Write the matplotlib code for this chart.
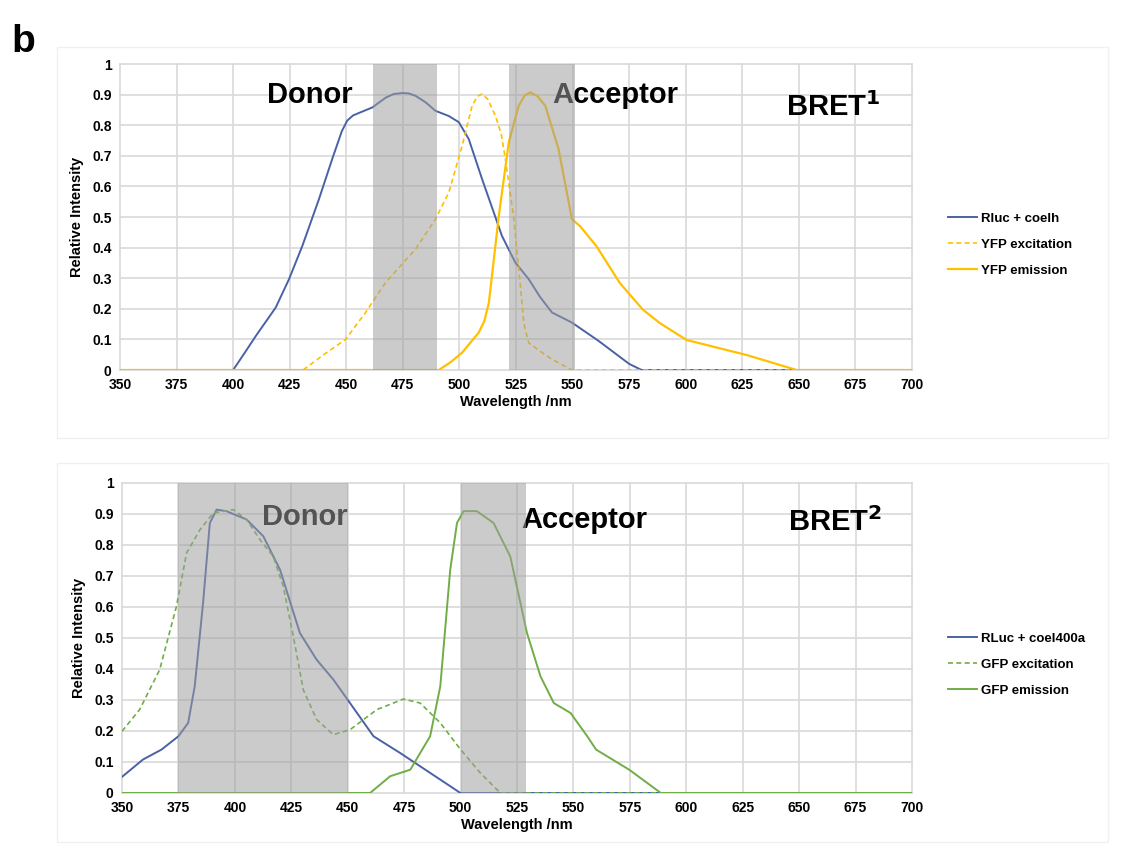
import numpy as np
import matplotlib.pyplot as plt
from matplotlib.patches import Rectangle

plt.rcParams['font.family'] = ['Liberation Sans', 'DejaVu Sans']
plt.rcParams['font.weight'] = 'bold'

# BRET1 spectra
rluc_x = [350, 400, 405, 410, 418.8, 424.7, 430.6, 437.9, 443.8, 448, 450.4, 453, 455.6,
          461.5, 467.4, 471, 474.7, 477.5, 480.6, 485, 489.4, 495.3, 499.7, 504.1, 510,
          518.8, 524.7, 530.6, 535.5, 540.9, 549.7, 561.5, 575, 580.5, 700]
rluc_y = [0, 0, 0.055, 0.111, 0.204, 0.297, 0.406, 0.558, 0.69, 0.78, 0.815, 0.832, 0.84,
          0.858, 0.89, 0.902, 0.905, 0.904, 0.896, 0.875, 0.847, 0.83, 0.81, 0.755, 0.624,
          0.438, 0.351, 0.297, 0.24, 0.188, 0.155, 0.095, 0.02, 0, 0]

yfp_ex_x = [350, 430.9, 440, 449.7, 458.5, 467.4, 480.6, 489.4, 495.3, 501.2, 505.6, 508,
            510, 512.5, 515.9, 518.5, 520.3, 523.9, 526.8, 528.5, 530.6, 536.5, 540.9,
            549.7, 700]
yfp_ex_y = [0, 0, 0.05, 0.1, 0.188, 0.286, 0.395, 0.493, 0.58, 0.733, 0.864, 0.895,
            0.902, 0.885, 0.831, 0.77, 0.689, 0.503, 0.286, 0.15, 0.089, 0.057, 0.035,
            0, 0]

yfp_em_x = [350, 490.9, 496, 501.2, 508.5, 511, 513, 517.4, 521.8, 526.2, 528.8, 531.3,
            534.5, 537.9, 543.8, 549.7, 553.3, 560.6, 570.9, 581.1, 588.6, 600.4, 626.9,
            649, 700]
yfp_em_y = [0, 0, 0.025, 0.057, 0.122, 0.16, 0.22, 0.504, 0.744, 0.864, 0.897, 0.907,
            0.895, 0.864, 0.722, 0.493, 0.47, 0.404, 0.284, 0.197, 0.153, 0.098, 0.049,
            0, 0]

# BRET2 spectra
rluc2_x = [350, 359.3, 367.5, 375, 379.3, 382.2, 385.9, 388.9, 391.9, 396.3, 405.2,
           412.6, 420, 428.8, 436.2, 443.6, 451, 461.4, 473.2, 482.1, 499.9, 700]
rluc2_y = [0.052, 0.108, 0.14, 0.183, 0.226, 0.344, 0.613, 0.871, 0.914, 0.909, 0.882,
           0.828, 0.72, 0.516, 0.43, 0.366, 0.29, 0.183, 0.129, 0.086, 0, 0]

gfp_ex_x = [350, 357.8, 366.7, 374.1, 378.6, 384.5, 390.4, 399.3, 405.2, 411.1, 417,
            421.4, 425.9, 430.3, 436.2, 443.6, 451, 462.9, 474.7, 482.1, 491, 500,
            508.7, 517.6, 700]
gfp_ex_y = [0.199, 0.269, 0.398, 0.602, 0.774, 0.849, 0.903, 0.914, 0.882, 0.817, 0.763,
            0.667, 0.505, 0.333, 0.237, 0.188, 0.204, 0.269, 0.303, 0.29, 0.226, 0.14,
            0.065, 0, 0]

gfp_em_x = [350, 459.9, 468.8, 477.7, 486.5, 491, 495.4, 498.4, 501.3, 507.2, 514.6,
            522, 529.4, 535.4, 541.3, 548.7, 556.1, 560, 574.7, 588.7, 700]
gfp_em_y = [0, 0, 0.054, 0.075, 0.183, 0.344, 0.72, 0.871, 0.909, 0.909, 0.871,
            0.763, 0.516, 0.376, 0.29, 0.258, 0.183, 0.14, 0.075, 0, 0]

# filter bands (nm)
bands1 = [(462, 490), (522, 551)]
bands2 = [(375, 450), (500, 529)]

blue = '#4a62a5'
yellow = '#ffc000'
green = '#70ad47'

fig = plt.figure(figsize=(11.31, 8.5), dpi=100)

# faint chart-area borders
for (x0, y0, w, h) in [(0.05, 0.485, 0.93, 0.46), (0.05, 0.01, 0.93, 0.445)]:
    fig.patches.append(Rectangle((x0, y0), w, h, transform=fig.transFigure,
                                 fill=False, edgecolor='#f0f0f0', lw=1))

ax1 = fig.add_axes([0.1061, 0.5647, 0.7003, 0.36])
ax2 = fig.add_axes([0.1079, 0.0671, 0.6985, 0.3647])


def style(ax):
    ax.set_xlim(350, 700)
    ax.set_ylim(0, 1)
    ax.set_xticks(np.arange(350, 701, 25))
    ax.set_yticks(np.arange(0, 1.01, 0.1))
    ax.set_yticklabels(['0', '0.1', '0.2', '0.3', '0.4', '0.5', '0.6', '0.7', '0.8', '0.9', '1'])
    ax.tick_params(length=0, labelsize=10, pad=6)
    for lab in ax.get_xticklabels() + ax.get_yticklabels():
        lab.set_fontweight('bold')
    for s in ax.spines.values():
        s.set_visible(False)
    ax.grid(True, color='#d9d9d9', lw=1.2, clip_on=False)
    ax.set_axisbelow(True)
    ax.set_xlabel('Wavelength /nm', fontsize=10.5, fontweight='bold', labelpad=2)
    ax.set_ylabel('Relative Intensity', fontsize=10.5, fontweight='bold', labelpad=6)


style(ax1)
style(ax2)

ax1.plot(rluc_x, rluc_y, color=blue, lw=1.4, label='Rluc + coelh', zorder=3)
ax1.plot(yfp_ex_x, yfp_ex_y, color=yellow, lw=1.2, ls=(0, (3, 2)), label='YFP excitation', zorder=3)
ax1.plot(yfp_em_x, yfp_em_y, color=yellow, lw=1.6, label='YFP emission', zorder=3)

ax2.plot(rluc2_x, rluc2_y, color=blue, lw=1.4, label='RLuc + coel400a', zorder=3)
ax2.plot(gfp_ex_x, gfp_ex_y, color=green, lw=1.2, ls=(0, (3, 2)), label='GFP excitation', zorder=3)
ax2.plot(gfp_em_x, gfp_em_y, color=green, lw=1.4, label='GFP emission', zorder=3)

for ax, bands in [(ax1, bands1), (ax2, bands2)]:
    for b0, b1 in bands:
        ax.axvspan(b0, b1, color='#9e9e9e', alpha=0.53, lw=0, zorder=5)

txt = dict(fontsize=21, fontweight='bold', ha='center', va='center', zorder=4)
ax1.text(434, 0.9, 'Donor', **txt)
ax1.text(569, 0.9, 'Acceptor', **txt)
ax1.text(665, 0.86, 'BRET$^{\\mathbf{1}}$', **txt)
ax2.text(431, 0.89, 'Donor', **txt)
ax2.text(555, 0.88, 'Acceptor', **txt)
ax2.text(666, 0.875, 'BRET$^{\\mathbf{2}}$', **txt)

leg_kw = dict(loc='upper left', frameon=False, handlelength=2.2, handletextpad=0.3,
              labelspacing=1.05, prop={'weight': 'bold', 'size': 9.5})
ax1.legend(bbox_to_anchor=(0.828, 0.764), bbox_transform=fig.transFigure, **leg_kw)
ax2.legend(bbox_to_anchor=(0.828, 0.27), bbox_transform=fig.transFigure, **leg_kw)

fig.text(0.010, 0.972, 'b', fontsize=28, fontweight='bold', va='top')

fig.savefig('out.png', dpi=100)
